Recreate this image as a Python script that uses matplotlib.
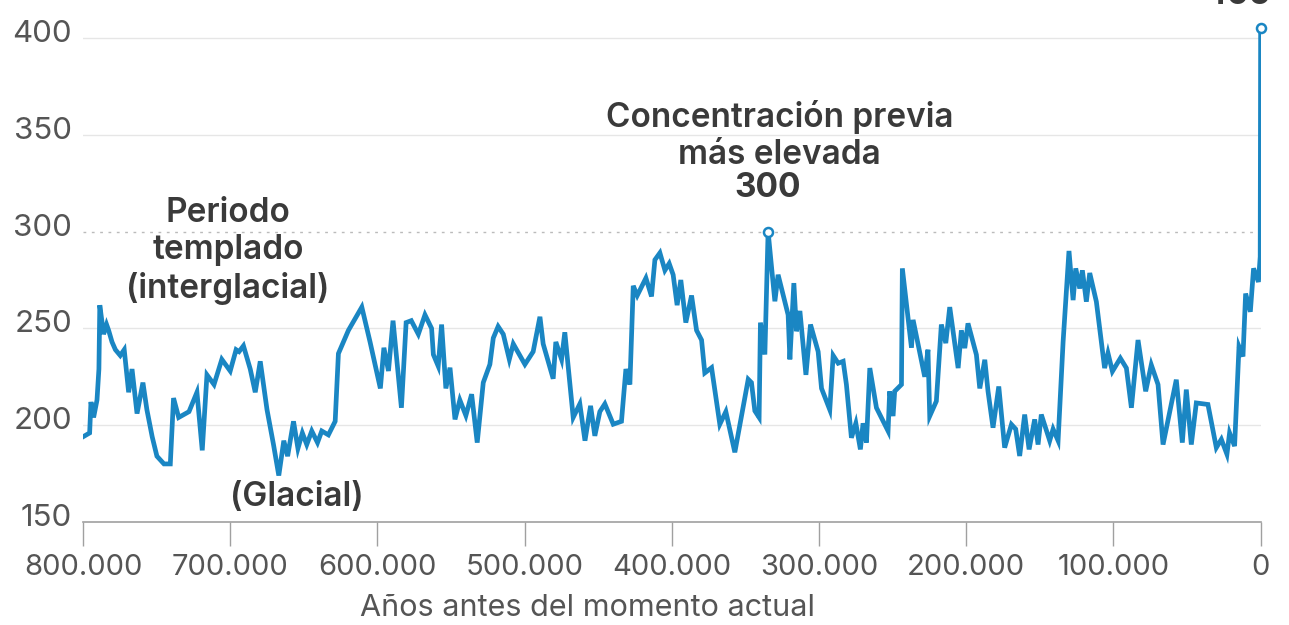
import matplotlib
matplotlib.use('Agg')
import matplotlib.pyplot as plt
import matplotlib.transforms as mtransforms
from matplotlib.ticker import FuncFormatter

# miles de años antes del presente / CO2 (ppm)
ages = [800, 795.5, 794.6, 792.8, 790.5, 789.2, 788.6, 786, 784, 782.6, 780.3, 778, 774.7, 772,
        769, 766.7, 763.3, 759.3, 756.6, 753, 749.8, 745, 740.7, 738.5, 735, 728, 722.6, 719,
        715.8, 711, 705.7, 700, 696, 694, 691, 686.4, 683, 679.6, 675, 670.6, 667, 663.6, 661,
        657, 654, 651, 648, 644.6, 640.7, 637.8, 633.3, 628.7, 626.5, 619.7, 610.6, 605, 598,
        595.6, 592.5, 589.4, 583.7, 580.5, 577, 572.2, 567.7, 563.2, 562, 558.7, 556.4, 553.5,
        550.7, 547.3, 544, 539.9, 536, 532.2, 528.1, 523.6, 521.3, 518, 514.5, 510.4, 507.7,
        499.8, 494.2, 489.6, 487.4, 480.6, 478.8, 474.9, 472.7, 467, 462.5, 459, 455.2, 452.3,
        448.9, 445.5, 439.8, 434.2, 431.2, 428.5, 426.2, 423.5, 417.6, 413.8, 411.5, 408.1,
        404.7, 401.8, 399.1, 396.4, 393.9, 390.5, 386.6, 383.2, 379.8, 377.6, 373, 367.4, 363.3,
        357.2, 348.1, 345.9, 343.6, 340.7, 339.8, 336.8, 334.6, 330, 327.8, 321, 319.8, 317.1,
        315.3, 313, 308.9, 305.8, 300.6, 298.3, 292.7, 290.4, 287, 283.6, 281.4, 278, 275,
        271.9, 270.1, 267.8, 265.5, 261, 253.1, 252, 249.7, 248.6, 244, 243.4, 237.2, 236.1,
        228.2, 226, 224.8, 220.3, 216.9, 213.9, 211.2, 205.5, 203.3, 201, 198.8, 193.1, 190.8,
        187.4, 185.2, 181.8, 177.9, 173.9, 169.3, 166.4, 163.7, 160.3, 157.3, 153.5, 151.2, 149,
        143.3, 141, 137.6, 134.2, 130.2, 127.4, 125.6, 122.9, 121.1, 118.4, 116.1, 111.6, 106,
        103.7, 100.7, 95.3, 91.2, 87.8, 83.3, 78.1, 74.3, 69.7, 66.3, 57.3, 53.2, 50.5, 47.1,
        43.7, 35.8, 30.1, 26.7, 22.9, 21.1, 17.7, 14.7, 12, 10.2, 7, 4.8, 1.5, 0.3, 0]
co2 = [194, 196, 212, 204, 213, 229, 262, 247, 252, 249, 243, 239, 236, 239,
       217, 229, 206, 222, 208, 194, 184, 180, 180, 214, 204, 207, 217, 187,
       226, 221, 234, 228, 239, 238, 241, 229, 217, 233, 208, 190, 174, 192, 184,
       202, 188, 196, 190, 197, 191, 197, 195, 202, 237, 249, 261, 243, 219,
       240, 228, 254, 209, 253, 254, 247, 257, 250, 236.5, 230.5, 252, 219,
       229.7, 203, 213, 205, 216, 191, 222, 231.4, 245, 251, 247, 234, 242,
       231.4, 238, 256, 242, 224, 243, 234, 248, 204, 211, 192, 210, 194.5,
       207, 211, 200.5, 202, 229, 221, 272, 267, 276, 266.5, 285.4, 289,
       280, 283.5, 277.7, 262, 275, 253, 267, 249, 244, 227, 229.7, 200.5, 207,
       186, 223.7, 222, 207.4, 204, 253, 236.5, 300, 264, 277.7, 257, 234, 273.4,
       248.5, 259, 226, 252, 238, 219, 208, 236, 232, 233, 221, 193.5, 201,
       187.5, 201, 191, 229.5, 209, 197, 217.5, 204.7, 217.5, 221, 281, 240, 254.4,
       225, 239, 204.7, 212.4, 252, 242.4, 261, 229.5, 249, 239.8, 252.6, 236.4, 219,
       233.8, 217.5, 198.7, 220, 188.4, 200.4, 198, 184.1, 205.5, 187.5, 203, 190, 205.5,
       192, 198, 192, 243, 290, 264.6, 281, 270.6, 280, 263.8, 278.6, 263.8, 229.5,
       237.2, 227.8, 234.6, 229.5, 209, 244, 217.5, 231.2, 221, 190, 223.5, 191, 218.4, 190,
       211.5, 210.7, 188.4, 192.7, 185, 196, 189.2, 240.6, 235.5, 268, 258.6, 281, 274, 287, 405]

highlight_ages = [334.6, 0]
highlight_co2 = [300, 405]

yticks = [150, 200, 250, 300, 350, 400]
xticks = [800, 700, 600, 500, 400, 300, 200, 100, 0]

plt.rcParams['font.family'] = ['Inter', 'DejaVu Sans']
blue = '#1a86c3'
txt = '#3a3a3a'
grey = '#555555'

fig = plt.figure(figsize=(12.89, 6.25), dpi=100)
ax = fig.add_axes([0.0644, 0.1648, 0.9136, 0.8054])

ax.plot(ages, co2, color=blue, lw=3.4, solid_joinstyle='miter', zorder=3)
ax.plot(highlight_ages, highlight_co2, ls='none', marker='o', ms=6.5, mfc='white',
        mec=blue, mew=1.8, zorder=4, clip_on=False)

ax.set_xlim(800, 0)
ax.set_ylim(150, 410)

# rejilla
for v in yticks[1:]:
    if v == 300:
        ax.axhline(v, color='#bbbbbb', lw=1, ls=(0, (2, 4)), zorder=1)
    else:
        ax.axhline(v, color='#e6e6e6', lw=1, zorder=1)

for s in ['top', 'right', 'left']:
    ax.spines[s].set_visible(False)
ax.spines['bottom'].set_color('#a0a0a0')
ax.spines['bottom'].set_linewidth(1.2)

ax.set_yticks(yticks)
ax.set_xticks(xticks)
ax.xaxis.set_major_formatter(FuncFormatter(lambda v, p: f"{int(v * 1000):,}".replace(',', '.')))
ax.tick_params(axis='y', length=0, pad=8, labelsize=22.5, labelcolor=grey)
ax.tick_params(axis='x', length=17, width=1, color='#a0a0a0', pad=6, labelsize=21,
               labelcolor=grey)
shift = mtransforms.ScaledTranslation(0, -4 / 100, fig.dpi_scale_trans)
for lab in ax.get_yticklabels():
    lab.set_verticalalignment('baseline')
    lab.set_transform(lab.get_transform() + shift)

fig.text(588 / 1289, 1 - 608 / 625, 'Años antes del momento actual', ha='center',
         va='center', fontsize=22, color=grey)

# anotaciones
ax.text(701.5, 290, 'Periodo\ntemplado\n(interglacial)', ha='center', va='center',
        fontsize=24, fontweight='semibold', color=txt, linespacing=1.2)
ax.text(654.7, 163, '(Glacial)', ha='center', va='center', fontsize=24,
        fontweight='semibold', color=txt)
ax.text(326.7, 349.5, 'Concentración previa\nmás elevada', ha='center', va='center',
        fontsize=24, fontweight='semibold', color=txt, linespacing=1.2)
ax.text(334.6, 322.5, '300', ha='center', va='center', fontsize=24, fontweight='bold',
        color=txt)
ax.text(15.6, 417.5, '405', ha='center', va='baseline', fontsize=24, fontweight='bold',
        color=txt, clip_on=False)

fig.savefig('out.png', dpi=100)
